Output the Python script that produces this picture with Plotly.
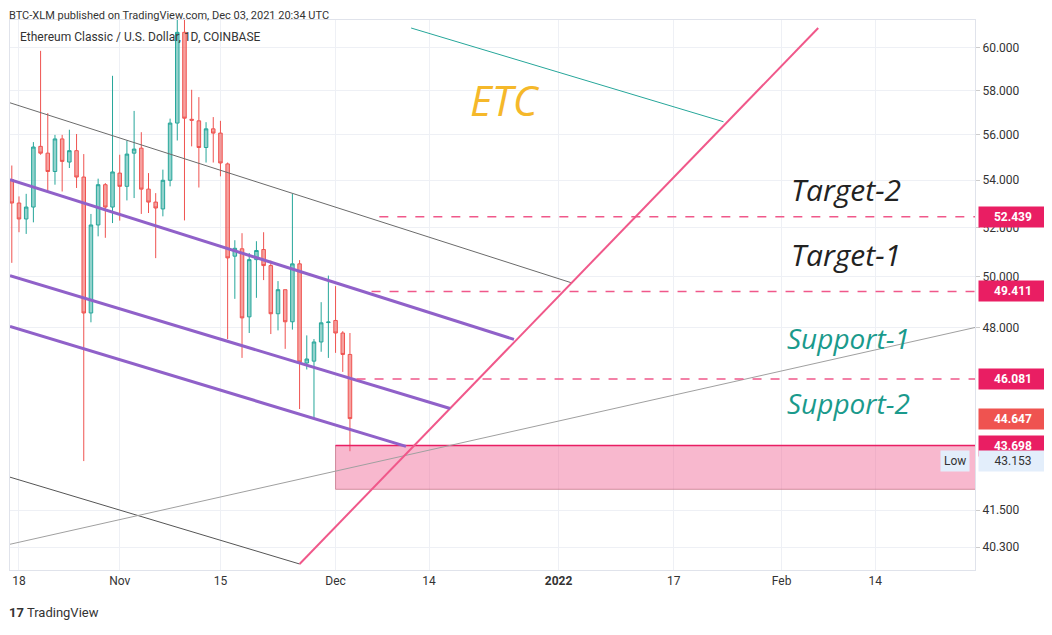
import math
import pandas as pd
import plotly.graph_objects as go

start = "2021-10-17"
opens  = [54.02,53.02,52.35,52.85,55.47,55.17,54.37,55.80,54.78,55.28,54.13,48.57,52.10,53.80,52.85,54.30,53.73,55.17,55.39,53.61,53.06,52.77,53.99,56.51,60.75,56.68,56.61,55.42,56.25,56.06,54.70,50.82,51.12,48.42,50.68,51.09,50.44,48.54,49.48,48.23,50.51,46.67,46.74,47.46,48.20,48.28,47.80,46.99]
highs  = [54.63,53.30,53.41,55.66,59.86,56.96,55.98,55.98,56.21,56.02,55.13,52.56,54.06,53.87,58.68,55.10,55.73,57.06,56.10,54.30,53.44,54.45,56.71,61.60,61.60,58.03,57.69,56.55,56.78,56.61,54.76,51.47,51.76,50.95,51.43,51.80,50.64,49.82,49.48,53.41,50.66,47.71,47.57,48.99,50.04,49.62,47.87,47.80]
lows   = [50.55,51.80,51.73,52.21,55.10,53.49,53.80,53.51,54.52,53.66,43.16,48.21,51.63,51.57,52.18,52.28,53.13,53.23,52.56,52.60,50.74,52.46,53.73,55.73,52.29,55.47,53.68,54.76,54.76,54.16,47.57,49.12,46.86,47.80,49.16,49.86,47.76,47.90,47.20,47.93,44.99,46.43,44.66,47.09,46.86,47.05,46.34,43.50]
closes = [53.02,52.35,52.85,55.44,55.17,54.37,55.80,54.81,55.28,54.13,48.57,52.10,53.80,52.85,54.35,53.73,55.13,55.35,53.61,53.06,52.81,53.99,56.51,60.75,56.73,56.64,55.42,56.25,56.06,54.74,50.75,51.14,48.38,50.68,51.05,50.44,48.54,49.48,48.23,50.51,46.71,46.82,47.46,48.19,48.22,47.80,46.99,44.647]
dates = pd.date_range(start, periods=len(opens), freq="D")

purple_lines = [
    ("2021-10-16 18:00", 54.02, "2021-12-25 19:00", 47.56),
    ("2021-10-16 18:00", 50.04, "2021-12-16 22:00", 45.01),
    ("2021-10-16 18:00", 48.05, "2021-12-10 19:00", 43.67),
]
thin_lines = [
    ("2021-10-16 18:00", 57.43, "2022-01-02 17:00", 49.76, "#6b6b6b", 1),
    ("2021-10-16 18:00", 42.61, "2021-11-26 00:00", 39.76, "#555555", 1),
    ("2021-10-16 18:00", 40.39, "2022-02-27 21:00", 48.01, "#a0a0a0", 1),
    ("2021-12-11 12:00", 60.96, "2022-01-23 22:00", 56.57, "#26a69a", 1),
    ("2021-11-26 00:00", 39.76, "2022-02-06 02:00", 60.96, "#f0588a", 2),
]
levels = [52.439, 49.411, 46.081]
level_starts = ["2021-12-07 02:00", "2021-12-06 00:00", "2021-12-03 22:00"]
zone_x = ["2021-12-01", "2022-02-28"]
zone_y = [42.20, 43.698]
x_end = "2022-02-27 21:00"

tickvals = [40.3, 41.5, 48, 50, 52, 54, 56, 58, 60]
xtickvals = ["2021-10-18", "2021-11-01", "2021-11-15", "2021-12-01", "2021-12-14", "2022-01-01", "2022-01-17", "2022-02-01", "2022-02-14"]
xticktext = ["18", "Nov", "15", "Dec", "14", "<b>2022</b>", "17", "Feb", "14"]

fig = go.Figure()
fig.add_trace(go.Scatter(x=[zone_x[0], zone_x[1], zone_x[1], zone_x[0], zone_x[0]],
                         y=[zone_y[0], zone_y[0], zone_y[1], zone_y[1], zone_y[0]],
                         fill="toself", fillcolor="rgba(240,98,146,0.45)", mode="lines",
                         line=dict(color="rgba(200,120,140,0.8)", width=1), hoverinfo="skip"))
fig.add_trace(go.Scatter(x=[zone_x[0], zone_x[1]], y=[zone_y[1], zone_y[1]], mode="lines",
                         line=dict(color="#e91e63", width=1.5), hoverinfo="skip"))
for x0, y0, x1, y1, c, w in thin_lines:
    fig.add_trace(go.Scatter(x=[x0, x1], y=[y0, y1], mode="lines", line=dict(color=c, width=w), hoverinfo="skip"))
for x0, y0, x1, y1 in purple_lines:
    fig.add_trace(go.Scatter(x=[x0, x1], y=[y0, y1], mode="lines", line=dict(color="#9061c9", width=3), hoverinfo="skip"))
for lv, xs in zip(levels, level_starts):
    fig.add_trace(go.Scatter(x=[xs, x_end], y=[lv, lv], mode="lines",
                             line=dict(color="#f0588a", width=1.5, dash="dash"), hoverinfo="skip"))

fig.add_trace(go.Candlestick(x=dates, open=opens, high=highs, low=lows, close=closes,
                             increasing=dict(line=dict(color="#26a69a", width=1), fillcolor="rgba(38,166,154,0.5)"),
                             decreasing=dict(line=dict(color="#ef5350", width=1), fillcolor="rgba(239,83,80,0.55)"),
                             whiskerwidth=0))

ann = []
def lab(v, bg, fg="white"):
    ann.append(dict(xref="paper", x=1.003, xanchor="left", yref="y", y=math.log10(v), text=f"<b>{v:.3f}</b>" if fg == "white" else f"{v:.3f}",
                    showarrow=False, bgcolor=bg, font=dict(color=fg, size=12), borderpad=3, width=62, align="center"))
for v in levels:
    lab(v, "#e91e63")
lab(44.647, "#ef5350")
lab(43.698, "#e91e63")
lab(43.153, "#e3eefb", "#333333")
ann.append(dict(xref="paper", x=0.995, xanchor="right", yref="y", y=math.log10(43.153), text="Low", showarrow=False,
                bgcolor="#e3eefb", font=dict(color="#333", size=12), borderpad=3))
def txt(x, y, t, c, s):
    ann.append(dict(xref="x", x=x, yref="y", y=math.log10(y), text=f"<i>{t}</i>", showarrow=False, font=dict(color=c, size=s, family="Open Sans")))
txt("2021-12-24 12:00", 57.6, "ETC", "#f5b82a", 42)
txt("2022-02-10", 53.6, "Target-2", "#222222", 30)
txt("2022-02-10", 50.9, "Target-1", "#222222", 30)
txt("2022-02-10 08:00", 47.6, "Support-1", "#1a9a8c", 28)
txt("2022-02-10 08:00", 45.2, "Support-2", "#1a9a8c", 28)
ann.append(dict(xref="paper", yref="paper", x=-0.003, y=1.0, xanchor="left", yanchor="middle", yshift=5,
                text="BTC-XLM published on TradingView.com, Dec 03, 2021 20:34 UTC", showarrow=False, font=dict(size=11, color="#333")))
ann.append(dict(xref="paper", yref="paper", x=0.008, y=0.985, xanchor="left", yanchor="top",
                text="Ethereum Classic / U.S. Dollar, 1D, COINBASE", showarrow=False, font=dict(size=12, color="#333")))
ann.append(dict(xref="paper", yref="paper", x=-0.003, y=-0.06, xanchor="left", yanchor="top",
                text="<b>17</b> TradingView", showarrow=False, font=dict(size=13, color="#333")))

fig.update_layout(
    width=1052, height=635, margin=dict(l=2, r=85, t=12, b=73),
    plot_bgcolor="white", paper_bgcolor="white", showlegend=False,
    font=dict(family="Roboto, Open Sans, sans-serif", color="#333"),
    xaxis=dict(type="date", range=["2021-10-16 18:00", x_end], rangeslider=dict(visible=False), automargin=False,
               tickvals=xtickvals, ticktext=xticktext, showgrid=True, gridcolor="#eef0f5",
               showline=True, linecolor="#e0e3eb", mirror=True, ticks="", tickfont=dict(size=12)),
    yaxis=dict(type="log", side="right", range=[math.log10(39.57), math.log10(61.35)], automargin=False,
               tickvals=tickvals, ticktext=[f"{v:.3f}" for v in tickvals], showgrid=True, gridcolor="#eef0f5",
               showline=True, linecolor="#e0e3eb", mirror=True, tickfont=dict(size=12), ticks="outside", ticklen=4, tickcolor="#ccc"),
    annotations=ann,
)
fig.write_html("out.html")
